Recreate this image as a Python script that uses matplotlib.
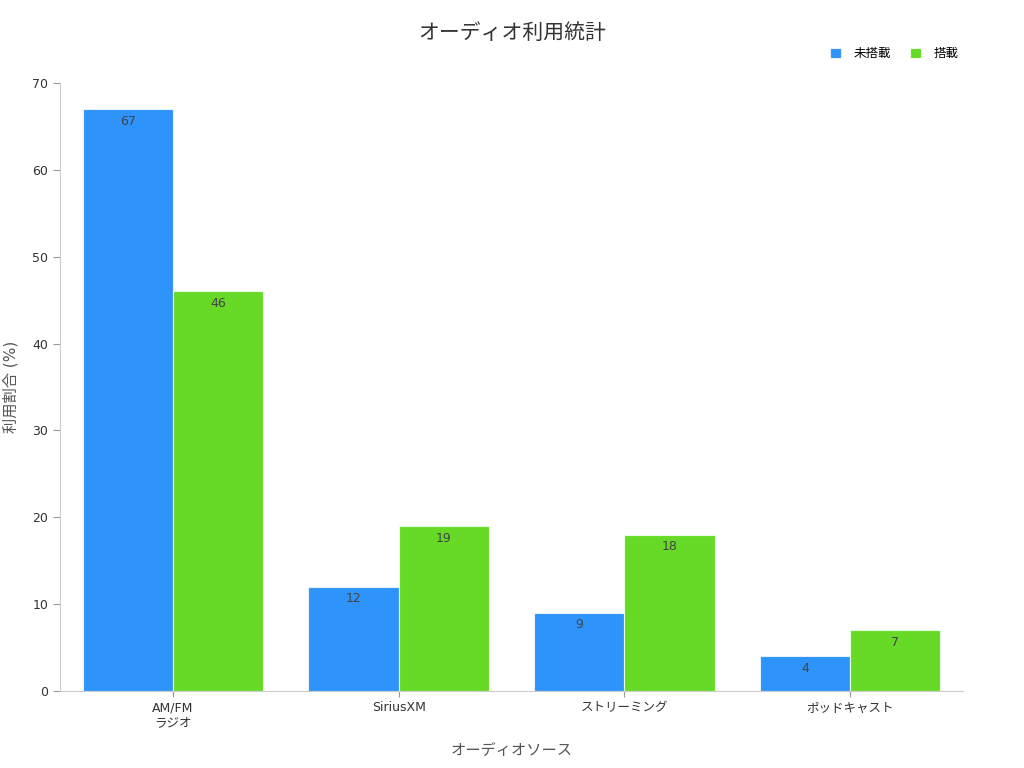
import matplotlib
matplotlib.use("Agg")
import matplotlib.pyplot as plt
import numpy as np

plt.rcParams['font.family'] = ['DejaVu Sans', 'Noto Sans CJK JP']

categories = ["AM/FM\nラジオ", "SiriusXM", "ストリーミング", "ポッドキャスト"]
series_names = ["未搭載", "搭載"]
values_without = [67, 12, 9, 4]
values_with = [46, 19, 18, 7]
colors = ["#2E93FA", "#66DA26"]

fig = plt.figure(figsize=(10.24, 7.68), dpi=100)
ax = fig.add_axes([60/1024, 77/768, 903/1024, 608/768])

x = np.arange(len(categories))
w = 0.4
b1 = ax.bar(x - w/2, values_without, w, color=colors[0], edgecolor="#E8F2FF", linewidth=0.8, label=series_names[0])
b2 = ax.bar(x + w/2, values_with, w, color=colors[1], edgecolor="#E8FFE0", linewidth=0.8, label=series_names[1])

for bars in (b1, b2):
    for r in bars:
        h = r.get_height()
        ax.annotate(f"{h:g}", (r.get_x() + r.get_width()/2, h), xytext=(0, -4),
                    textcoords="offset points", ha="center", va="top",
                    fontsize=9, color="#444444")

ax.set_xlim(-0.5, 3.5)
ax.set_ylim(0, 70)
ax.set_yticks(range(0, 71, 10))
ax.set_xticks(x)
ax.set_xticklabels(categories, fontsize=9, color="#333333")
ax.tick_params(axis="y", labelsize=9, colors="#333333", color="#999999", length=5)
ax.tick_params(axis="x", color="#999999", length=4)
for s in ("top", "right"):
    ax.spines[s].set_visible(False)
for s in ("left", "bottom"):
    ax.spines[s].set_color("#cccccc")

ax.set_xlabel("オーディオソース", fontsize=11, color="#555555", labelpad=10)
ax.set_ylabel("利用割合 (%)", fontsize=11, color="#555555", labelpad=10)
fig.text(0.5, 1 - 33/768, "オーディオ利用統計", ha="center", va="center", fontsize=15, color="#333333")

leg = ax.legend(loc="upper right", bbox_to_anchor=(970/1024, 732/768), bbox_transform=fig.transFigure,
                ncol=2, frameon=False, fontsize=9, handlelength=0.9, handleheight=0.9,
                columnspacing=1.5, handletextpad=1.0)

fig.savefig("out.png", dpi=100)
